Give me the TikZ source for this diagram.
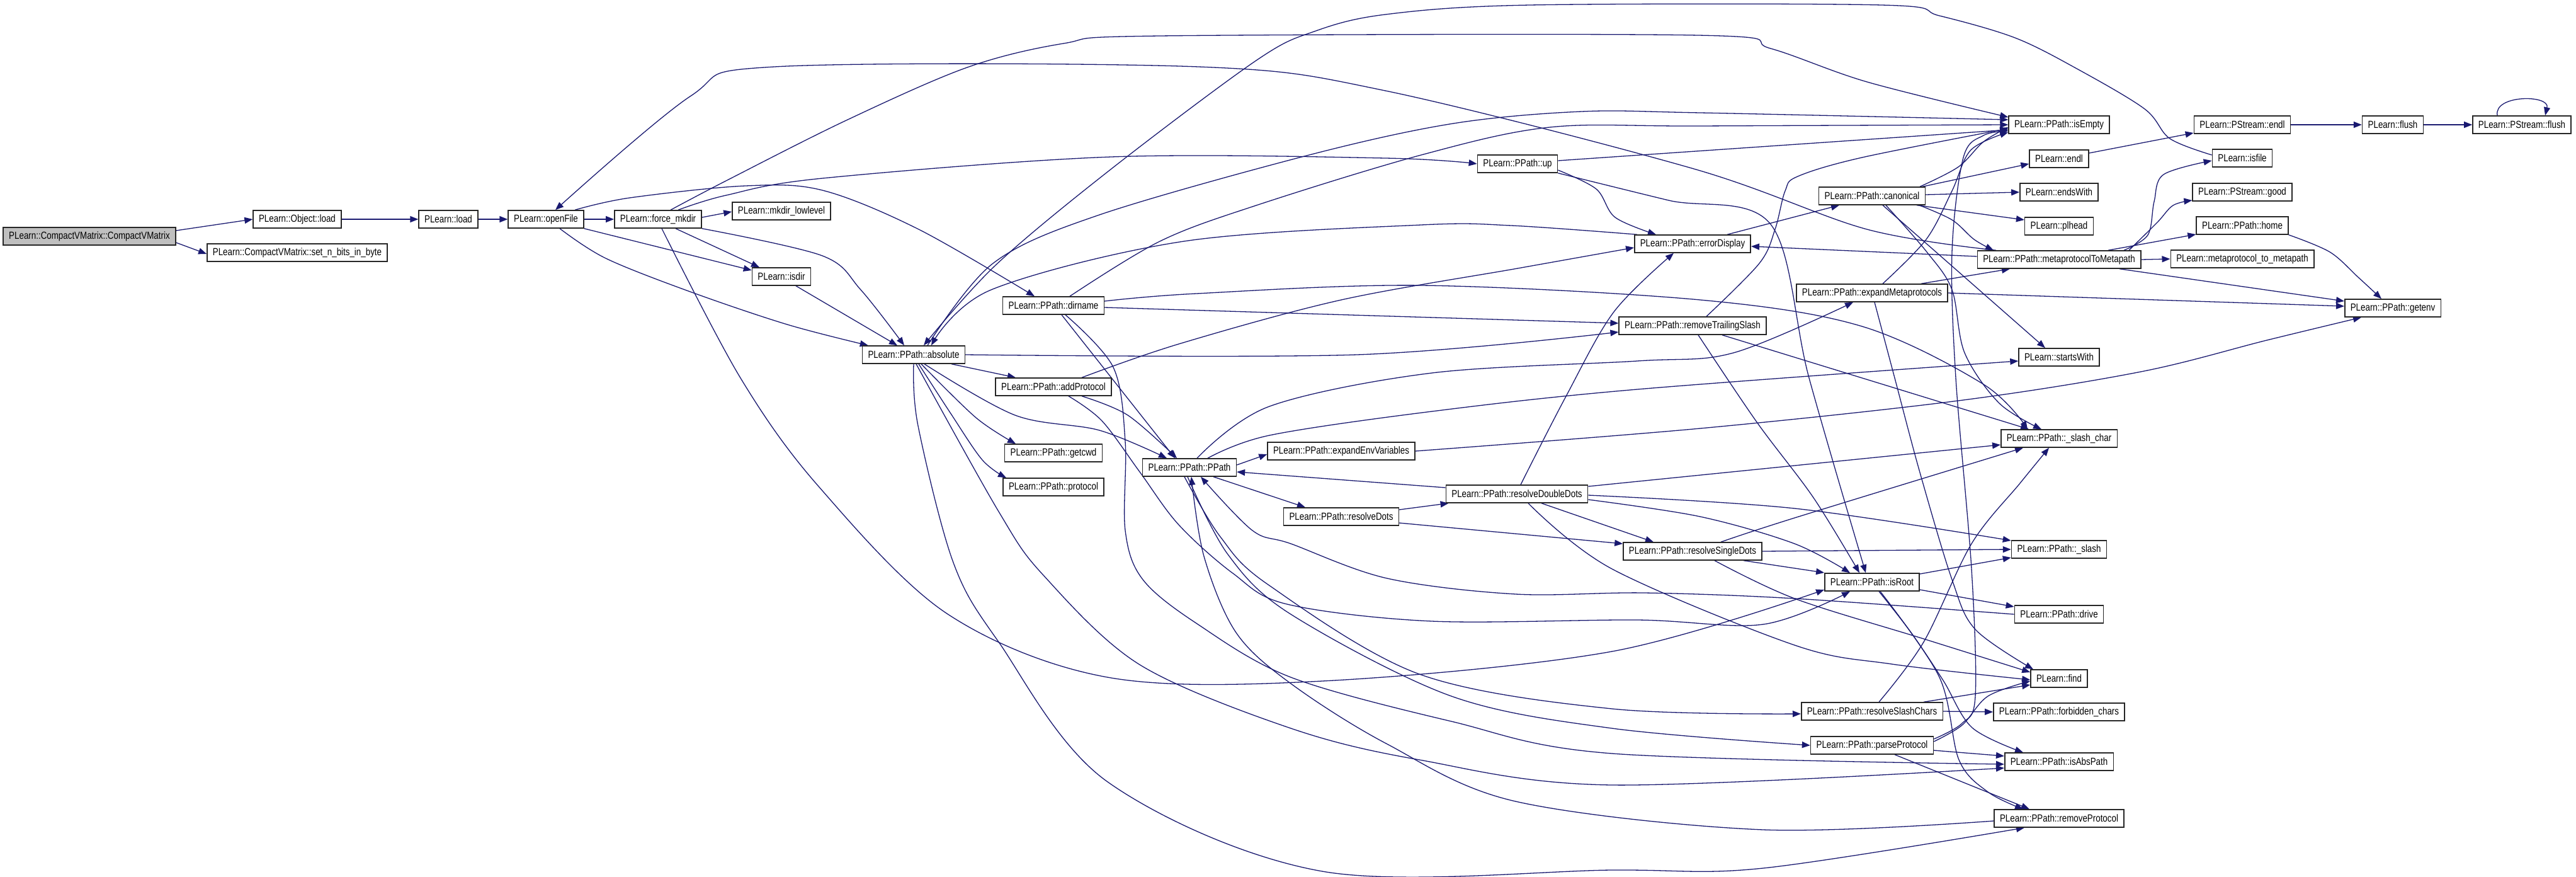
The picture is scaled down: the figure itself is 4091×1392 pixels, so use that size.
\documentclass[tikz,border=0pt]{standalone}
\usepackage{fontspec}
\newfontfamily\nf{Liberation Sans}[FakeStretch=0.82]
\usetikzlibrary{arrows.meta}
\definecolor{mblue}{HTML}{191970}
\pgfdeclarelayer{bg}
\pgfsetlayers{bg,main}
\begin{document}
\begin{tikzpicture}[x=1pt,y=-1pt,
  nd/.style={draw=black!85, line width=1.5pt, fill=white, inner xsep=9pt, inner ysep=0pt, minimum height=28pt, font=\nf\fontsize{16.3}{18}\selectfont, text=black},
  ed/.style={draw=mblue, line width=1.3pt, -{Triangle[length=13pt,width=10pt]}},
  sm/.style={smooth, tension=0.55}]
\useasboundingbox (0,0) rectangle (4091,1392);
% nodes
\node[nd,fill=gray!50] (cvm) at (142,375) {PLearn::CompactVMatrix::CompactVMatrix};
\node[nd] (oload) at (472,348) {PLearn::Object::load};
\node[nd] (setn) at (472,401) {PLearn::CompactVMatrix::set\_n\_bits\_in\_byte};
\node[nd] (pload) at (712,348) {PLearn::load};
\node[nd] (openf) at (867,348) {PLearn::openFile};
\node[nd] (fmk) at (1045,348) {PLearn::force\_mkdir};
\node[nd] (mkl) at (1241,335) {PLearn::mkdir\_lowlevel};
\node[nd] (isdir) at (1241,439) {PLearn::isdir};
\node[nd] (abs) at (1451,563) {PLearn::PPath::absolute};
\node[nd] (dirn) at (1673,485) {PLearn::PPath::dirname};
\node[nd] (addp) at (1673,614) {PLearn::PPath::addProtocol};
\node[nd] (getcwd) at (1673,719) {PLearn::PPath::getcwd};
\node[nd] (proto) at (1673,773) {PLearn::PPath::protocol};
\node[nd] (ppath) at (1889,742) {PLearn::PPath::PPath};
\node[nd] (up) at (2410,260) {PLearn::PPath::up};
\node[nd] (expenv) at (2130,716) {PLearn::PPath::expandEnvVariables};
\node[nd] (rdots) at (2130,820) {PLearn::PPath::resolveDots};
\node[nd] (rdd) at (2409,784) {PLearn::PPath::resolveDoubleDots};
\node[nd] (errd) at (2688,387) {PLearn::PPath::errorDisplay};
\node[nd] (rts) at (2688,517) {PLearn::PPath::removeTrailingSlash};
\node[nd] (rsd) at (2688,875) {PLearn::PPath::resolveSingleDots};
\node[nd] (canon) at (2973,311) {PLearn::PPath::canonical};
\node[nd] (expmeta) at (2973,465) {PLearn::PPath::expandMetaprotocols};
\node[nd] (isroot) at (2973,924) {PLearn::PPath::isRoot};
\node[nd] (rsc) at (2973,1129) {PLearn::PPath::resolveSlashChars};
\node[nd] (parsep) at (2973,1183) {PLearn::PPath::parseProtocol};
\node[nd] (isempty) at (3270,198) {PLearn::PPath::isEmpty};
\node[nd] (endl) at (3270,252) {PLearn::endl};
\node[nd] (endsw) at (3270,305) {PLearn::endsWith};
\node[nd] (plhead) at (3270,359) {PLearn::plhead};
\node[nd] (m2m) at (3270,412) {PLearn::PPath::metaprotocolToMetapath};
\node[nd] (startsw) at (3270,567) {PLearn::startsWith};
\node[nd] (slashc) at (3270,696) {PLearn::PPath::\_slash\_char};
\node[nd] (slash) at (3270,872) {PLearn::PPath::\_slash};
\node[nd] (drive) at (3270,975) {PLearn::PPath::drive};
\node[nd] (find) at (3270,1077) {PLearn::find};
\node[nd] (forb) at (3270,1130) {PLearn::PPath::forbidden\_chars};
\node[nd] (isabs) at (3270,1209) {PLearn::PPath::isAbsPath};
\node[nd] (rmproto) at (3270,1299) {PLearn::PPath::removeProtocol};
\node[nd] (psendl) at (3561,198) {PLearn::PStream::endl};
\node[nd] (isfile) at (3561,251) {PLearn::isfile};
\node[nd] (good) at (3561,305) {PLearn::PStream::good};
\node[nd] (home) at (3561,358) {PLearn::PPath::home};
\node[nd] (mtm) at (3561,411) {PLearn::metaprotocol\_to\_metapath};
\node[nd] (flush) at (3800,198) {PLearn::flush};
\node[nd] (psflush) at (4005,198) {PLearn::PStream::flush};
\node[nd] (getenv) at (3800,489) {PLearn::PPath::getenv};
% edges
\begin{pgfonlayer}{bg}
\fill[white] (0,0) rectangle (4091,1392);
\draw[ed] ([yshift=9pt]cvm.east) -- (oload.west);
\draw[ed] ([yshift=-10pt]cvm.east) -- ([yshift=-2pt]setn.west);
\draw[ed] (oload) -- (pload);
\draw[ed] (pload) -- (openf);
\draw[ed] (openf) -- (fmk);
\draw[ed] ([yshift=3pt]fmk.east) -- ([yshift=-1pt]mkl.west);
\draw[ed] ([xshift=28pt]fmk.south) -- ([xshift=-35pt]isdir.north);
\draw[ed] (openf.south east) -- ([yshift=10pt]isdir.west);
\draw[ed] plot[sm] coordinates {([xshift=22pt]openf.south) (962,410) (1096,463) (1250,515) ([xshift=10pt]abs.north west)};
\draw[ed] plot[sm] coordinates {(fmk.south east) (1306,406) (1367,460) ([xshift=-15pt]abs.north)};
\draw[ed] ([xshift=23pt]isdir.south) -- ([xshift=-26pt]abs.north);
\draw[ed] plot[sm] coordinates {([xshift=6pt]fmk.south) (1176,600) (1300,772) (1504,974) (1759,1075) (2100,1081) (2560,1034) ([yshift=-12pt]isroot.west)};
\draw[ed] plot[sm] coordinates {([xshift=32pt]fmk.north) (1153,310) (1306,283) (1765,249) (2200,251) (up.west)};
\draw[ed] plot[sm] coordinates {([xshift=20pt]fmk.north) (1153,287) (1344,191) (1536,107) (1689,69) (1842,57) (2697,56) (2812,77) (2965,130) ([yshift=12pt]isempty.west)};
\draw[ed] plot[sm] coordinates {([xshift=-100pt]m2m.north) (2965,364) (2690,268) (2200,144) (1903,106) (1230,106) (1096,153) ([xshift=15pt]openf.north)};
\draw[ed] plot[sm] coordinates {([yshift=5pt]isfile.west) (3446,220) (3406,173) (3300,110) (3200,60) (3080,25) (2988,8) (2430,8) (2200,23) (2087,50) (1995,96) (1765,268) (1581,421) ([xshift=16pt]abs.north)};
\draw[ed] plot[sm] coordinates {([xshift=22pt]abs.north) (1577,418) (1746,341) (2079,246) (2308,196) (2512,177) (2700,179) ([yshift=8pt]isempty.west)};
\draw[ed] plot[sm] coordinates {([xshift=5pt]errd.north west) (2400,358) (2257,357) (1880,383) (1574,460) ([xshift=28pt]abs.north)};
\draw[ed] plot[sm] coordinates {([xshift=46pt]openf.north) (1000,314) (1184,295) (1306,302) (1459,364) ([xshift=-30pt]dirn.north)};
\draw[ed] plot[sm] coordinates {([xshift=26pt]dirn.north) (1842,383) (1995,326) (2257,246) (2461,202) (2700,200) (isempty.west)};
\draw[ed] plot[sm] coordinates {([yshift=7pt]dirn.east) (1900,466) (2257,453) (2700,476) (2957,518) (3150,610) ([xshift=-50pt]slashc.north)};
\draw[ed] ([yshift=-3pt]dirn.east) -- ([yshift=4pt]rts.west);
\draw[ed] ([xshift=13pt]dirn.south) -- ([xshift=-23pt]ppath.north);
\draw[ed] plot[sm] coordinates {([xshift=19pt]dirn.south) (1768,583) (1787,701) (1787,842) (1815,920) (1901,990) (2050,1075) (2305,1145) (2560,1196) ([yshift=-4pt]isabs.west)};
\draw[ed] ([yshift=5pt]up.east) -- ([yshift=-8pt]isempty.west);
\draw[ed] plot[sm] coordinates {([yshift=-10pt]up.east) (2535,300) (2565,345) ([xshift=-58pt]errd.north)};
\draw[ed] plot[sm] coordinates {(up.south east) (2650,318) (2812,356) (2873,600) ([xshift=-10pt]isroot.north)};
\draw[ed] ([xshift=60pt]abs.south) -- ([xshift=-60pt]addp.north);
\draw[ed] plot[sm] coordinates {([xshift=12pt]abs.south) (1550,663) ([xshift=-60pt]getcwd.north)};
\draw[ed] plot[sm] coordinates {([xshift=8pt]abs.south) (1509,655) (1560,730) ([xshift=-75pt]proto.north)};
\draw[ed] plot[sm] coordinates {([xshift=17pt]abs.south) (1612,659) (1746,683) ([xshift=-36pt]ppath.north)};
\draw[ed] plot[sm] coordinates {([xshift=4pt]abs.south) (1586,812) (1657,913) (1810,1055) (2050,1156) (2254,1206) (2560,1246) ([yshift=-10pt]isabs.west)};
\draw[ed] plot[sm] coordinates {(abs.south) (1458,676) (1514,893) (1586,1019) (1759,1241) (2100,1383) (2560,1381) (2800,1378) ([xshift=-55pt]rmproto.south)};
\draw[ed] plot[sm] coordinates {(abs.east) (2155,563) ([yshift=-10pt]rts.west)};
\draw[ed] plot[sm] coordinates {([xshift=45pt]addp.south) (1791,659) ([xshift=-20pt]ppath.north)};
\draw[ed] plot[sm] coordinates {([xshift=45pt]addp.north) (1872,546) (2130,476) (2410,426) ([yshift=-6pt]errd.west)};
\draw[ed] plot[sm] coordinates {([xshift=24pt]addp.south) (1750,668) (1810,749) (1872,833) (1958,910) (2044,959) (2274,986) (2600,984) (2800,991) ([xshift=-35pt]isroot.south)};
\draw[ed] ([yshift=4pt]ppath.east) -- ([yshift=-5pt]expenv.west);
\draw[ed] ([xshift=38pt]ppath.south) -- ([xshift=-57pt]rdots.north);
\draw[ed] plot[sm] coordinates {([xshift=12pt]ppath.north) (2016,645) (2274,592) (2600,573) (2753,560) ([xshift=-30pt]expmeta.south)};
\draw[ed] plot[sm] coordinates {([xshift=29pt]ppath.north) (2016,691) (2274,653) (2600,618) ([yshift=-6pt]startsw.west)};
\draw[ed] plot[sm] coordinates {([xshift=-8pt]ppath.south) (1938,852) (2014,928) (2254,1070) (2560,1125) ([yshift=-4pt]rsc.west)};
\draw[ed] plot[sm] coordinates {([xshift=-3pt]ppath.south) (1950,880) (2050,975) (2305,1105) (2560,1156) (parsep.west)};
\draw[ed] plot[sm] coordinates {([yshift=-4pt]rmproto.west) (2800,1317) (2407,1272) (2203,1181) (2050,1085) (1963,1004) (1912,883) ([xshift=3pt]ppath.south)};
\draw[ed] plot[sm] coordinates {(drive.west) (2850,950) (2611,941) (2407,943) (2203,918) (2050,863) (1989,842) ([xshift=18pt]ppath.south)};
\draw[ed] ([yshift=10pt]rdd.west) -- ([yshift=-7pt]ppath.east);
\draw[ed] plot[sm] coordinates {(expenv.east) (2700,680) (3110,636) (3400,590) (3600,540) ([xshift=-50pt]getenv.south)};
\draw[ed] ([yshift=11pt]rdots.east) -- ([xshift=5pt]rdd.south west);
\draw[ed] ([yshift=-10pt]rdots.east) -- ([yshift=12pt]rsd.west);
\draw[ed] plot[sm] coordinates {([xshift=6pt]rdd.north) (2487,629) (2563,495) ([xshift=-30pt]errd.south)};
\draw[ed] ([yshift=12pt]rdd.east) -- ([yshift=-10pt]slashc.west);
\draw[ed] plot[sm] coordinates {([yshift=-2pt]rdd.east) (2850,807) ([yshift=14pt]slash.west)};
\draw[ed] plot[sm] coordinates {([yshift=-9pt]rdd.east) (2700,820) (2850,863) ([xshift=-35pt]isroot.north)};
\draw[ed] plot[sm] coordinates {([xshift=18pt]rdd.south) (2560,903) (2850,1024) (3004,1054) ([yshift=-2pt]find.west)};
\draw[ed] ([xshift=39pt]rdd.south) -- ([xshift=-62pt]rsd.north);
\draw[ed] plot[sm] coordinates {([xshift=45pt]rsd.north) (2850,822) ([xshift=-57pt]slashc.south)};
\draw[ed] (rsd.east) -- (slash.west);
\draw[ed] ([xshift=81pt]rsd.south) -- ([yshift=15pt]isroot.west);
\draw[ed] plot[sm] coordinates {([xshift=35pt]rsd.south) (2850,950) (3055,1014) ([yshift=10pt]find.west)};
\draw[ed] ([yshift=13pt]isroot.east) -- ([yshift=-13pt]slash.west);
\draw[ed] ([yshift=-12pt]isroot.east) -- ([yshift=12pt]drive.west);
\draw[ed] plot[sm] coordinates {([xshift=11pt]isroot.south) (3035,1004) (3086,1080) (3132,1155) ([xshift=-57pt]isabs.north)};
\draw[ed] plot[sm] coordinates {([xshift=13pt]isroot.south) (3080,1075) (3111,1206) (3157,1257) ([xshift=-57pt]rmproto.north)};
\draw[ed] plot[sm] coordinates {([xshift=11pt]rsc.north) (3055,1019) (3131,863) (3208,767) ([xshift=-16pt]slashc.south)};
\draw[ed] ([xshift=82pt]rsc.north) -- ([yshift=-10pt]find.west);
\draw[ed] (rsc.east) -- (forb.west);
\draw[ed] plot[sm] coordinates {([yshift=6pt]parsep.east) (3116,1151) (3157,1105) ([yshift=-4pt]find.west)};
\draw[ed] ([yshift=-8pt]parsep.east) -- ([yshift=9pt]isabs.west);
\draw[ed] ([xshift=36pt]parsep.south) -- ([xshift=-47pt]rmproto.north);
\draw[ed] plot[sm] coordinates {([yshift=10pt]parsep.east) (3116,1148) (3137,1105) (3131,903) (3106,600) (3100,400) (3118,250) (3150,215) ([yshift=-10pt]isempty.west)};
\draw[ed] plot[sm] coordinates {([xshift=76pt]canon.north) (3110,265) (3150,225) ([yshift=-4pt]isempty.west)};
\draw[ed] ([xshift=80pt]canon.north) -- ([yshift=-8pt]endl.west);
\draw[ed] ([yshift=2pt]canon.east) -- (endsw.west);
\draw[ed] ([xshift=71pt]canon.south) -- ([yshift=10pt]plhead.west);
\draw[ed] plot[sm] coordinates {([xshift=75pt]canon.south) (3100,349) (3135,380) ([xshift=-104pt]m2m.north)};
\draw[ed] ([xshift=17pt]canon.south) -- ([xshift=-22pt]startsw.north);
\draw[ed] plot[sm] coordinates {([xshift=22pt]canon.south) (3060,400) (3100,460) (3120,560) (3175,640) ([xshift=-28pt]slashc.north)};
\draw[ed] ([xshift=55pt]errd.north) -- ([xshift=-52pt]canon.south);
\draw[ed] plot[sm] coordinates {([xshift=17pt]expmeta.north) (3059,380) (3100,303) (3130,238) ([yshift=-12pt]isempty.west)};
\draw[ed] ([xshift=78pt]expmeta.north) -- ([xshift=-78pt]m2m.south);
\draw[ed] (expmeta.east) -- ([yshift=3pt]getenv.west);
\draw[ed] plot[sm] coordinates {([xshift=4pt]expmeta.south) (3009,600) (3049,750) (3100,920) (3137,999) ([xshift=-41pt]find.north)};
\draw[ed] plot[sm] coordinates {([xshift=22pt]rts.north) (2794,418) (2819,364) (2835,303) (2855,280) (2957,250) ([yshift=-6pt]isempty.west)};
\draw[ed] plot[sm] coordinates {([xshift=9pt]rts.south) (2790,670) (2880,790) ([xshift=-20pt]isroot.north)};
\draw[ed] ([xshift=47pt]rts.south) -- ([xshift=-48pt]slashc.north);
\draw[ed] ([yshift=5pt]m2m.west) -- ([yshift=-4pt]errd.east);
\draw[ed] plot[sm] coordinates {([xshift=103pt]m2m.north) (3411,373) (3421,320) (3436,277) ([yshift=-4pt]isfile.west)};
\draw[ed] plot[sm] coordinates {([xshift=111pt]m2m.north) (3426,353) (3451,326) ([yshift=-13pt]good.west)};
\draw[ed] ([xshift=78pt]m2m.north) -- ([yshift=-14pt]home.west);
\draw[ed] (m2m.east) -- (mtm.west);
\draw[ed] ([xshift=96pt]m2m.south) -- ([yshift=11pt]getenv.west);
\draw[ed] plot[sm] coordinates {(home.south east) (3700,400) (3745,440) ([xshift=-18pt]getenv.north)};
\draw[ed] ([yshift=9pt]endl.east) -- ([yshift=-13pt]psendl.west);
\draw[ed] (psendl) -- (flush);
\draw[ed] (flush) -- (psflush);
\draw[ed] ([xshift=-39pt]psflush.north) .. controls (3960,150) and (4050,150) .. ([xshift=37pt]psflush.north);
\end{pgfonlayer}
\end{tikzpicture}
\end{document}
